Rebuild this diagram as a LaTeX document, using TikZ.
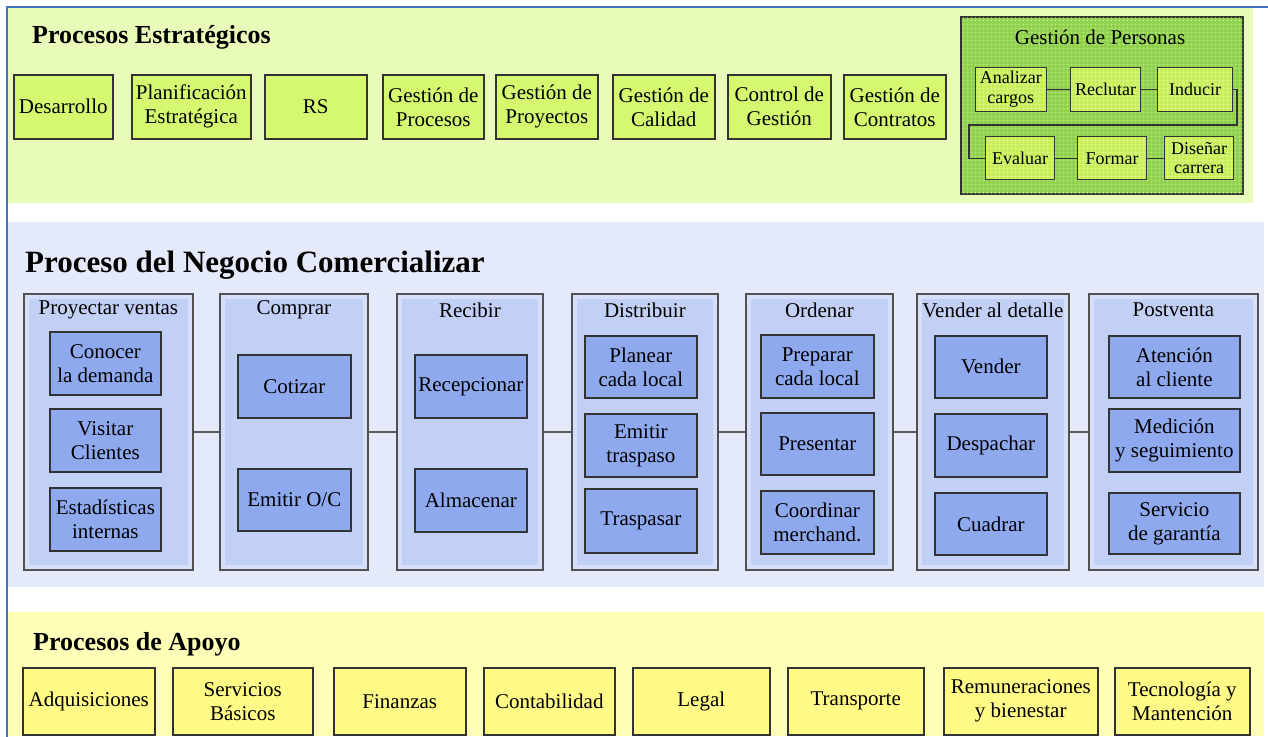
\documentclass[tikz,border=0pt]{standalone}
\usepackage{fontspec}
\setmainfont{LiberationSerif}[Extension=.ttf, UprightFont=*-Regular, BoldFont=*-Bold, ItalicFont=*-Italic, BoldItalicFont=*-BoldItalic]
\usetikzlibrary{patterns.meta}

\definecolor{frameblue}{HTML}{4472C4}
\definecolor{topband}{HTML}{E8FBB8}
\definecolor{topboxfill}{HTML}{D6F770}
\definecolor{persbg}{HTML}{8FD04C}
\definecolor{persgrid}{HTML}{B2E477}
\definecolor{persbox}{HTML}{C8EE5C}
\definecolor{persboxgrid}{HTML}{DAF68A}
\definecolor{midband}{HTML}{E5EAFA}
\definecolor{colouter}{HTML}{D6DEF9}
\definecolor{colinner}{HTML}{C3D0F5}
\definecolor{innerblue}{HTML}{8FA9EF}
\definecolor{botband}{HTML}{FFFFB8}
\definecolor{botboxfill}{HTML}{FFFB86}
\definecolor{edge}{HTML}{333333}

% box placed by its top-left and bottom-right corners (pixel units, y downwards)
\newcommand{\pxbox}[6]{\node[#1,anchor=north west,minimum width={(#4)-(#2)},minimum height={(#5)-(#3)}] (#6) at (#2,#3)}

\begin{document}
\begin{tikzpicture}[x=1pt,y=-1pt,
  lbl/.style={font=\rmfamily\fontsize{21}{24}\selectfont, align=center, inner sep=1pt},
  bandtitle/.style={font=\rmfamily\fontsize{26}{30}\selectfont\bfseries, anchor=base west, inner sep=0pt},
  midtitle/.style={font=\rmfamily\fontsize{31}{34}\selectfont\bfseries, anchor=base west, inner sep=0pt},
  topbox/.style={lbl, draw=edge, line width=1.6pt, fill=topboxfill},
  persouter/.style={draw=edge, line width=1.6pt, fill=persbg, inner sep=0pt},
  persbx/.style={font=\rmfamily\fontsize{18}{19.5}\selectfont, align=center, inner sep=0pt,
     draw=edge, line width=1.4pt, preaction={fill=persbox},
     pattern={Hatch[angle=0,distance=4pt,line width=0.5pt]}, pattern color=persboxgrid},
  colbox/.style={draw=edge!85, line width=1.8pt, fill=colouter, inner sep=0pt},
  coltitle/.style={lbl},
  bluebox/.style={lbl, draw=edge, line width=1.7pt, fill=innerblue},
  botbox/.style={lbl, draw=edge, line width=1.5pt, fill=botboxfill},
  pconn/.style={draw=edge, line width=1.2pt},
  midconn/.style={draw=edge!80, line width=1.6pt},
]
\useasboundingbox (0,0) rectangle (1268,736);
\fill[white] (0,0) rectangle (1268,736);

% ---------- bands ----------
\fill[topband] (8,8) rectangle (1253,203);
\fill[midband] (8,222) rectangle (1264,587);
\fill[botband] (8,612) rectangle (1264,736);
\draw[frameblue, line width=2pt] (7,737) -- (7,7) -- (1269,7);

% ---------- Procesos Estrategicos ----------
\node[bandtitle] (t1) at (32,43) {Procesos Estratégicos};

\pxbox{topbox}{13}{74}{112}{138}{des} {Desarrollo};
\pxbox{topbox}{131}{74}{250}{138}{pla} {Planificación\\Estratégica};
\pxbox{topbox}{264}{74}{366}{138}{rs} {RS};
\pxbox{topbox}{382}{74}{483}{138}{gpr} {Gestión de\\Procesos};
\pxbox{topbox}{495}{74}{597}{138}{gpy} {Gestión de\\Proyectos};
\pxbox{topbox}{612}{74}{714}{138}{gca} {Gestión de\\Calidad};
\pxbox{topbox}{727}{74}{830}{138}{cge} {Control de\\Gestión};
\pxbox{topbox}{843}{74}{945}{138}{gco} {Gestión de\\Contratos};

% Gestion de Personas
\pxbox{persouter}{960}{16}{1242}{193}{pers} {};
\fill[pattern={Hatch[angle=0,distance=4pt,line width=0.6pt]}, pattern color=persgrid]
  ([shift={(1,1)}]pers.north west) rectangle ([shift={(-1,-1)}]pers.south east);
\node[lbl] (perst) at (1100,37) {Gestión de Personas};

\pxbox{persbx}{975}{67}{1046}{111}{ana} {Analizar\\cargos};
\pxbox{persbx}{1070}{67}{1140}{111}{rec} {Reclutar};
\pxbox{persbx}{1157}{67}{1232}{111}{ind} {Inducir};
\pxbox{persbx}{985}{136}{1054}{179}{eva} {Evaluar};
\pxbox{persbx}{1077}{136}{1146}{179}{for} {Formar};
\pxbox{persbx}{1164}{136}{1233}{179}{dis} {Diseñar\\carrera};

\coordinate (bendA) at (1237,125);
\coordinate (bendB) at (969,125);
\draw[pconn] (ana) -- (rec);
\draw[pconn] (rec) -- (ind);
\draw[pconn] (ind.east) -| (bendA) -- (bendB) |- (eva.west);
\draw[pconn] (eva) -- (for);
\draw[pconn] (for) -- (dis);

% ---------- Proceso del Negocio ----------
\node[midtitle] (t2) at (25,272) {Proceso del Negocio Comercializar};

\foreach \nm/\xa/\xb in {pv/23/192, cp/219/367, rb/396/542, ds/571/717, od/745/892, vd/916/1068, pt/1088/1257}{
  \pxbox{colbox}{\xa}{293}{\xb}{569}{\nm} {};
  \fill[colinner] ([shift={(6,6)}]\nm.north west) rectangle ([shift={(-6,-6)}]\nm.south east);
}

\node[coltitle] (pvt) at ([yshift=-17pt]pv.north) {Proyectar ventas};
\node[coltitle] (cpt) at ([yshift=-17pt]cp.north) {Comprar};
\node[coltitle] (rbt) at ([yshift=-17pt]rb.north) {Recibir};
\node[coltitle] (dst) at ([yshift=-17pt]ds.north) {Distribuir};
\node[coltitle] (odt) at ([yshift=-17pt]od.north) {Ordenar};
\node[coltitle] (vdt) at ([yshift=-17pt]vd.north) {Vender al detalle};
\node[coltitle] (ptt) at ([yshift=-17pt]pt.north) {Postventa};

\pxbox{bluebox}{49}{331}{160}{394}{pv1} {Conocer\\la demanda};
\pxbox{bluebox}{49}{408}{160}{471}{pv2} {Visitar\\Clientes};
\pxbox{bluebox}{49}{487}{160}{550}{pv3} {Estadísticas\\internas};

\pxbox{bluebox}{237}{354}{350}{417}{cp1} {Cotizar};
\pxbox{bluebox}{237}{468}{350}{530}{cp2} {Emitir O/C};

\pxbox{bluebox}{414}{354}{526}{417}{rb1} {Recepcionar};
\pxbox{bluebox}{414}{468}{526}{531}{rb2} {Almacenar};

\pxbox{bluebox}{584}{335}{696}{397}{ds1} {Planear\\cada local};
\pxbox{bluebox}{584}{413}{696}{476}{ds2} {Emitir\\traspaso};
\pxbox{bluebox}{584}{488}{696}{552}{ds3} {Traspasar};

\pxbox{bluebox}{760}{334}{873}{397}{od1} {Preparar\\cada local};
\pxbox{bluebox}{760}{412}{873}{474}{od2} {Presentar};
\pxbox{bluebox}{760}{490}{873}{553}{od3} {Coordinar\\merchand.};

\pxbox{bluebox}{934}{335}{1046}{397}{vd1} {Vender};
\pxbox{bluebox}{934}{413}{1046}{476}{vd2} {Despachar};
\pxbox{bluebox}{934}{492}{1046}{554}{vd3} {Cuadrar};

\pxbox{bluebox}{1108}{335}{1239}{397}{pt1} {Atención\\al cliente};
\pxbox{bluebox}{1108}{408}{1239}{471}{pt2} {Medición\\y seguimiento};
\pxbox{bluebox}{1108}{492}{1239}{553}{pt3} {Servicio\\de garantía};

\draw[midconn] (pv.east) -- (cp.west);
\draw[midconn] (cp.east) -- (rb.west);
\draw[midconn] (rb.east) -- (ds.west);
\draw[midconn] (ds.east) -- (od.west);
\draw[midconn] (od.east) -- (vd.west);
\draw[midconn] (vd.east) -- (pt.west);

% ---------- Procesos de Apoyo ----------
\node[bandtitle] (t3) at (33,650) {Procesos de Apoyo};

\pxbox{botbox}{22}{667}{154}{734}{b1} {Adquisiciones};
\pxbox{botbox}{172}{667}{312}{734}{b2} {Servicios\\Básicos};
\pxbox{botbox}{333}{667}{465}{734}{b3} {Finanzas};
\pxbox{botbox}{483}{667}{614}{734}{b4} {Contabilidad};
\pxbox{botbox}{632}{667}{769}{734}{b5} {Legal};
\pxbox{botbox}{787}{667}{923}{734}{b6} {Transporte};
\pxbox{botbox}{943}{667}{1097}{734}{b7} {Remuneraciones\\y bienestar};
\pxbox{botbox}{1114}{667}{1249}{734}{b8} {Tecnología y\\Mantención};

\end{tikzpicture}
\end{document}
